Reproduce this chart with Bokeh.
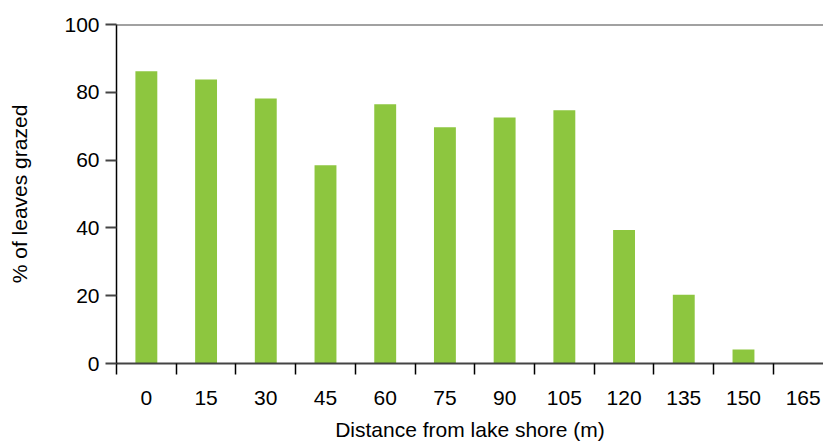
from bokeh.plotting import figure
from bokeh.models import Range1d, FixedTicker, Span
from bokeh.embed import file_html
from bokeh.resources import INLINE

distance = [0, 15, 30, 45, 60, 75, 90, 105, 120, 135, 150, 165]
grazed = [86.2, 83.8, 78.2, 58.5, 76.5, 69.7, 72.6, 74.7, 39.4, 20.3, 4.1, 0]
y_ticks = [0, 20, 40, 60, 80, 100]

FONT = "Liberation Sans"
FS = "21px"

p = figure(width=823, height=443, output_backend="svg", toolbar_location=None,
           x_range=Range1d(-7.5, 170.1), y_range=Range1d(0, 100),
           min_border_left=116, min_border_right=0, min_border_top=24, min_border_bottom=79)
p.outline_line_color = None
p.xgrid.visible = False
p.ygrid.visible = False

p.vbar(x=distance, top=grazed, width=5.5, fill_color="#8DC63F", line_color=None)

p.add_layout(Span(location=100, dimension="width", line_color="#444444", line_width=2))

# y axis
ya = p.yaxis[0]
ya.ticker = FixedTicker(ticks=y_ticks, minor_ticks=[])
ya.axis_line_color = "black"
ya.axis_line_width = 1.5
ya.major_tick_in = 0
ya.major_tick_out = 11
ya.major_tick_line_color = "#444444"
ya.major_tick_line_width = 2
ya.minor_tick_line_color = None
ya.major_label_text_font = FONT
ya.major_label_text_font_size = FS
ya.major_label_text_color = "black"
ya.major_label_standoff = 6
ya.axis_label = "% of leaves grazed"
ya.axis_label_text_font = FONT
ya.axis_label_text_font_size = FS
ya.axis_label_text_font_style = "normal"
ya.axis_label_text_color = "black"
ya.axis_label_standoff = 30

# x axis
boundaries = [d - 7.5 for d in distance]
xa = p.xaxis[0]
xa.ticker = FixedTicker(ticks=distance, minor_ticks=boundaries)
xa.axis_line_color = "#444444"
xa.axis_line_width = 2
xa.major_tick_in = 0
xa.major_tick_out = 0
xa.minor_tick_in = 0
xa.minor_tick_out = 11
xa.minor_tick_line_color = "black"
xa.minor_tick_line_width = 1.5
xa.major_label_text_font = FONT
xa.major_label_text_font_size = FS
xa.major_label_text_color = "black"
xa.major_label_standoff = 16
xa.axis_label = "Distance from lake shore (m)"
xa.axis_label_text_font = FONT
xa.axis_label_text_font_size = FS
xa.axis_label_text_font_style = "normal"
xa.axis_label_text_color = "black"
xa.axis_label_standoff = 10

open("out.html", "w").write(file_html(p, INLINE))
